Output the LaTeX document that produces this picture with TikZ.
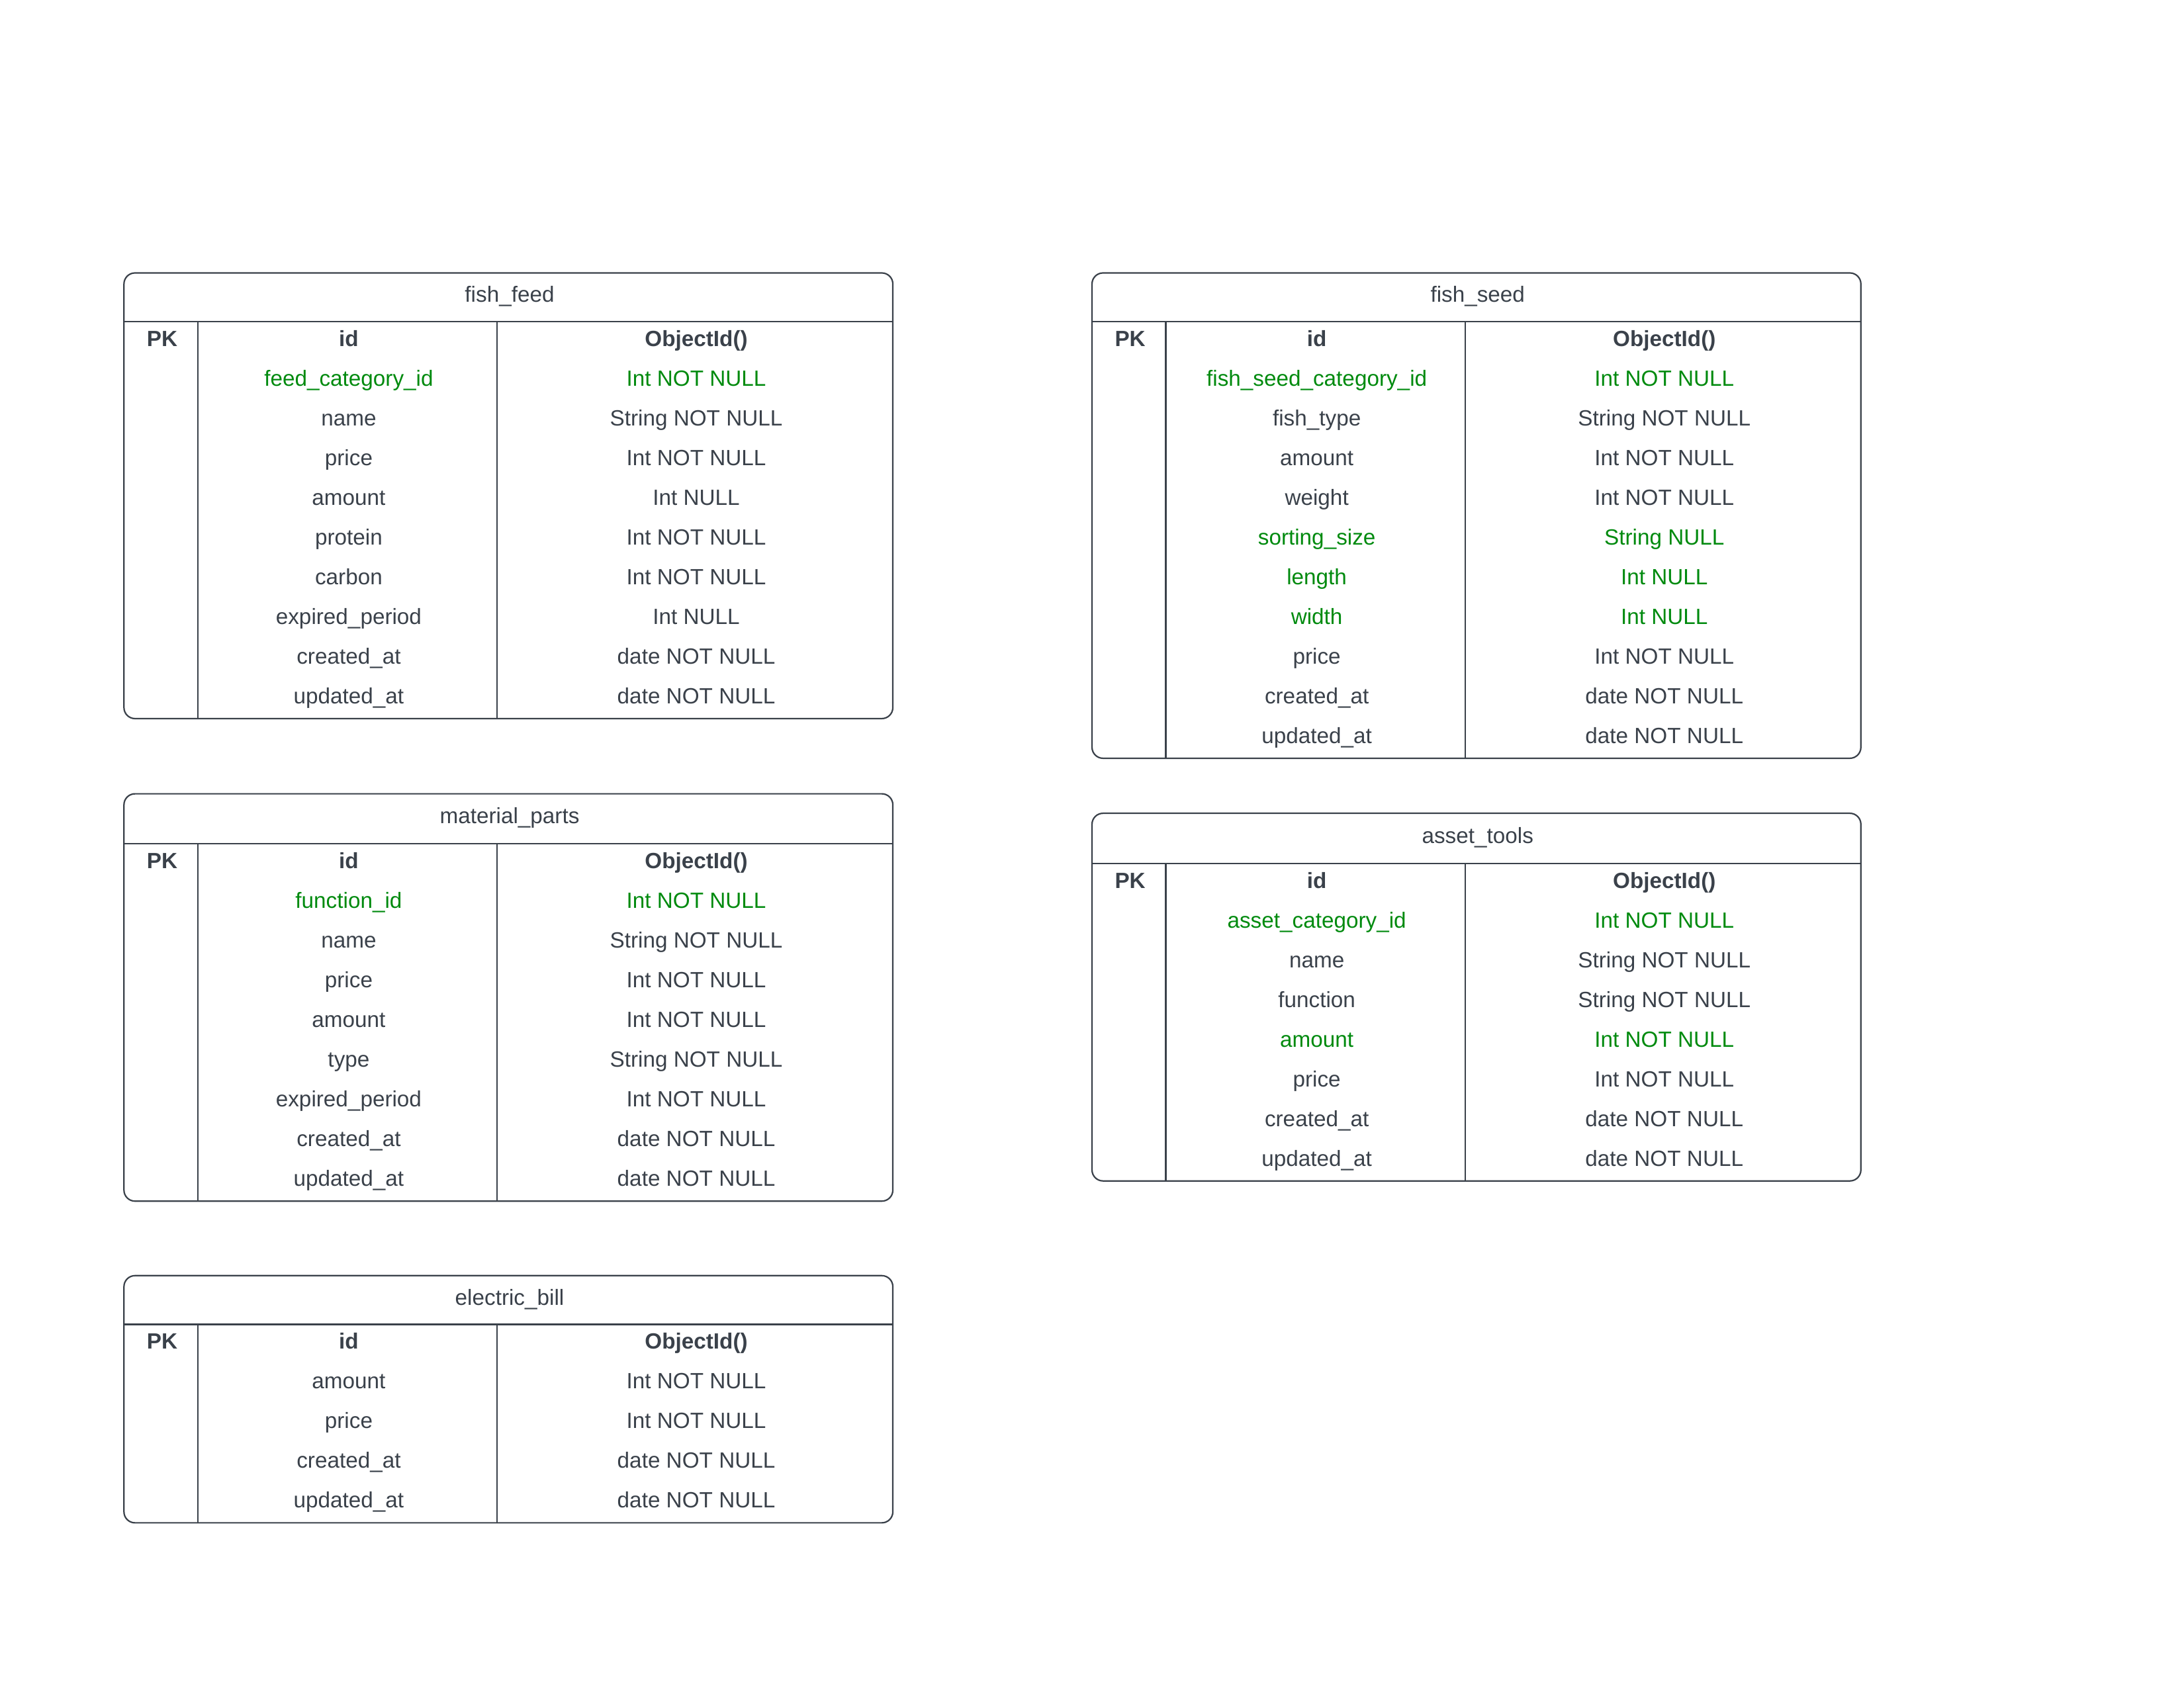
\documentclass[tikz,border=0pt]{standalone}
\usepackage{fontspec}
\setmainfont{Liberation Sans}
\definecolor{ink}{HTML}{3A414A}
\definecolor{fkgreen}{HTML}{008A0E}
\tikzset{
    col/.style={text=ink, font=\fontsize{9}{11}\selectfont, text height=0.7em, text depth=0.2em, inner sep=0pt, xshift=0.5pt, yshift=0.5pt},
    key/.style={col, font=\fontsize{9}{11}\selectfont\bfseries},
    fk/.style={col, text=fkgreen},
    frame/.style={draw=ink, line width=0.6pt, rounded corners=4.5pt},
    rule/.style={draw=ink, line width=0.6pt}
}
\begin{document}
\begin{tikzpicture}
    \useasboundingbox (0, 0) rectangle (31.36, 24.24);

    % fish_feed
    \draw[frame](1.78, 13.92) rectangle (12.82, 20.32);
    \draw[rule](1.78, 19.62) to (12.82, 19.62);
        \draw[rule](2.84, 19.62) to (2.84, 13.92);
        \draw[rule](7.14, 19.62) to (7.14, 13.92);
    \node[col] (ff_title) at(7.30, 19.97){fish\_feed};
    \node[key] (ff_pk) at(2.31, 19.335){PK};
    \node[key] (ff_id) at(4.99, 19.335){id};
    \node[key] (ff_id_t) at(9.98, 19.335){ObjectId()};
    \node[fk] (ff_cat) at(4.99, 18.765){feed\_category\_id};
    \node[fk] (ff_cat_t) at(9.98, 18.765){Int NOT NULL};
    \node[col] (ff_name) at(4.99, 18.195){name};
    \node[col] (ff_name_t) at(9.98, 18.195){String NOT NULL};
    \node[col] (ff_price) at(4.99, 17.625){price};
    \node[col] (ff_price_t) at(9.98, 17.625){Int NOT NULL};
    \node[col] (ff_amount) at(4.99, 17.055){amount};
    \node[col] (ff_amount_t) at(9.98, 17.055){Int NULL};
    \node[col] (ff_protein) at(4.99, 16.485){protein};
    \node[col] (ff_protein_t) at(9.98, 16.485){Int NOT NULL};
    \node[col] (ff_carbon) at(4.99, 15.915){carbon};
    \node[col] (ff_carbon_t) at(9.98, 15.915){Int NOT NULL};
    \node[col] (ff_exp) at(4.99, 15.345){expired\_period};
    \node[col] (ff_exp_t) at(9.98, 15.345){Int NULL};
    \node[col] (ff_created) at(4.99, 14.775){created\_at};
    \node[col] (ff_created_t) at(9.98, 14.775){date NOT NULL};
    \node[col] (ff_updated) at(4.99, 14.205){updated\_at};
    \node[col] (ff_updated_t) at(9.98, 14.205){date NOT NULL};

    % fish_seed
    \draw[frame](15.68, 13.35) rectangle (26.72, 20.32);
    \draw[rule](15.68, 19.62) to (26.72, 19.62);
        \draw[rule](16.74, 19.62) to (16.74, 13.35);
        \draw[rule](21.04, 19.62) to (21.04, 13.35);
    \node[col] (fs_title) at(21.20, 19.97){fish\_seed};
    \node[key] (fs_pk) at(16.21, 19.335){PK};
    \node[key] (fs_id) at(18.89, 19.335){id};
    \node[key] (fs_id_t) at(23.88, 19.335){ObjectId()};
    \node[fk] (fs_cat) at(18.89, 18.765){fish\_seed\_category\_id};
    \node[fk] (fs_cat_t) at(23.88, 18.765){Int NOT NULL};
    \node[col] (fs_type) at(18.89, 18.195){fish\_type};
    \node[col] (fs_type_t) at(23.88, 18.195){String NOT NULL};
    \node[col] (fs_amount) at(18.89, 17.625){amount};
    \node[col] (fs_amount_t) at(23.88, 17.625){Int NOT NULL};
    \node[col] (fs_weight) at(18.89, 17.055){weight};
    \node[col] (fs_weight_t) at(23.88, 17.055){Int NOT NULL};
    \node[fk] (fs_size) at(18.89, 16.485){sorting\_size};
    \node[fk] (fs_size_t) at(23.88, 16.485){String NULL};
    \node[fk] (fs_length) at(18.89, 15.915){length};
    \node[fk] (fs_length_t) at(23.88, 15.915){Int NULL};
    \node[fk] (fs_width) at(18.89, 15.345){width};
    \node[fk] (fs_width_t) at(23.88, 15.345){Int NULL};
    \node[col] (fs_price) at(18.89, 14.775){price};
    \node[col] (fs_price_t) at(23.88, 14.775){Int NOT NULL};
    \node[col] (fs_created) at(18.89, 14.205){created\_at};
    \node[col] (fs_created_t) at(23.88, 14.205){date NOT NULL};
    \node[col] (fs_updated) at(18.89, 13.635){updated\_at};
    \node[col] (fs_updated_t) at(23.88, 13.635){date NOT NULL};

    % material_parts
    \draw[frame](1.78, 6.99) rectangle (12.82, 12.84);
    \draw[rule](1.78, 12.12) to (12.82, 12.12);
        \draw[rule](2.84, 12.12) to (2.84, 6.99);
        \draw[rule](7.14, 12.12) to (7.14, 6.99);
    \node[col] (mp_title) at(7.30, 12.48){material\_parts};
    \node[key] (mp_pk) at(2.31, 11.835){PK};
    \node[key] (mp_id) at(4.99, 11.835){id};
    \node[key] (mp_id_t) at(9.98, 11.835){ObjectId()};
    \node[fk] (mp_func) at(4.99, 11.265){function\_id};
    \node[fk] (mp_func_t) at(9.98, 11.265){Int NOT NULL};
    \node[col] (mp_name) at(4.99, 10.695){name};
    \node[col] (mp_name_t) at(9.98, 10.695){String NOT NULL};
    \node[col] (mp_price) at(4.99, 10.125){price};
    \node[col] (mp_price_t) at(9.98, 10.125){Int NOT NULL};
    \node[col] (mp_amount) at(4.99, 9.555){amount};
    \node[col] (mp_amount_t) at(9.98, 9.555){Int NOT NULL};
    \node[col] (mp_type) at(4.99, 8.985){type};
    \node[col] (mp_type_t) at(9.98, 8.985){String NOT NULL};
    \node[col] (mp_exp) at(4.99, 8.415){expired\_period};
    \node[col] (mp_exp_t) at(9.98, 8.415){Int NOT NULL};
    \node[col] (mp_created) at(4.99, 7.845){created\_at};
    \node[col] (mp_created_t) at(9.98, 7.845){date NOT NULL};
    \node[col] (mp_updated) at(4.99, 7.275){updated\_at};
    \node[col] (mp_updated_t) at(9.98, 7.275){date NOT NULL};

    % asset_tools
    \draw[frame](15.68, 7.28) rectangle (26.72, 12.56);
    \draw[rule](15.68, 11.84) to (26.72, 11.84);
        \draw[rule](16.74, 11.84) to (16.74, 7.28);
        \draw[rule](21.04, 11.84) to (21.04, 7.28);
    \node[col] (at_title) at(21.20, 12.20){asset\_tools};
    \node[key] (at_pk) at(16.21, 11.555){PK};
    \node[key] (at_id) at(18.89, 11.555){id};
    \node[key] (at_id_t) at(23.88, 11.555){ObjectId()};
    \node[fk] (at_cat) at(18.89, 10.985){asset\_category\_id};
    \node[fk] (at_cat_t) at(23.88, 10.985){Int NOT NULL};
    \node[col] (at_name) at(18.89, 10.415){name};
    \node[col] (at_name_t) at(23.88, 10.415){String NOT NULL};
    \node[col] (at_func) at(18.89, 9.845){function};
    \node[col] (at_func_t) at(23.88, 9.845){String NOT NULL};
    \node[fk] (at_amount) at(18.89, 9.275){amount};
    \node[fk] (at_amount_t) at(23.88, 9.275){Int NOT NULL};
    \node[col] (at_price) at(18.89, 8.705){price};
    \node[col] (at_price_t) at(23.88, 8.705){Int NOT NULL};
    \node[col] (at_created) at(18.89, 8.135){created\_at};
    \node[col] (at_created_t) at(23.88, 8.135){date NOT NULL};
    \node[col] (at_updated) at(18.89, 7.565){updated\_at};
    \node[col] (at_updated_t) at(23.88, 7.565){date NOT NULL};

    % electric_bill
    \draw[frame](1.78, 2.37) rectangle (12.82, 5.92);
    \draw[rule](1.78, 5.22) to (12.82, 5.22);
        \draw[rule](2.84, 5.22) to (2.84, 2.37);
        \draw[rule](7.14, 5.22) to (7.14, 2.37);
    \node[col] (eb_title) at(7.30, 5.57){electric\_bill};
    \node[key] (eb_pk) at(2.31, 4.935){PK};
    \node[key] (eb_id) at(4.99, 4.935){id};
    \node[key] (eb_id_t) at(9.98, 4.935){ObjectId()};
    \node[col] (eb_amount) at(4.99, 4.365){amount};
    \node[col] (eb_amount_t) at(9.98, 4.365){Int NOT NULL};
    \node[col] (eb_price) at(4.99, 3.795){price};
    \node[col] (eb_price_t) at(9.98, 3.795){Int NOT NULL};
    \node[col] (eb_created) at(4.99, 3.225){created\_at};
    \node[col] (eb_created_t) at(9.98, 3.225){date NOT NULL};
    \node[col] (eb_updated) at(4.99, 2.655){updated\_at};
    \node[col] (eb_updated_t) at(9.98, 2.655){date NOT NULL};
\end{tikzpicture}
\end{document}
